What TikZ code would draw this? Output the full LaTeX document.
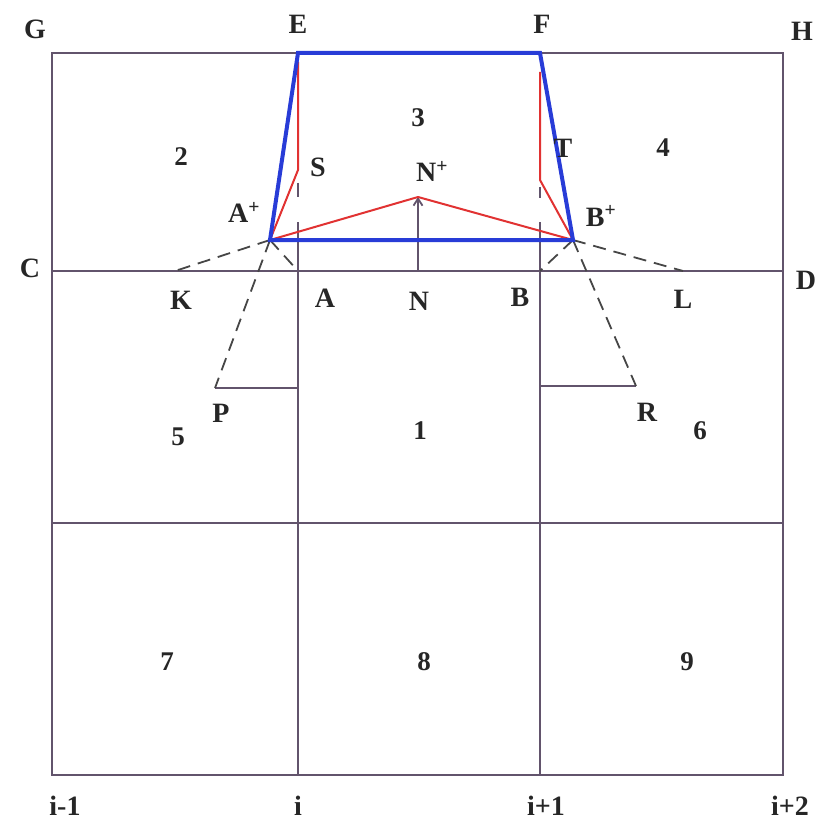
\documentclass[tikz,border=0pt]{standalone}
\usepackage{fontspec}
\setmainfont{Liberation Serif}
\usetikzlibrary{arrows.meta}
\definecolor{gridc}{RGB}{98,84,108}
\definecolor{blueline}{RGB}{40,60,215}
\definecolor{redline}{RGB}{225,50,50}
\definecolor{dashc}{RGB}{70,70,70}
\tikzset{
  gridline/.style={draw=gridc,line width=2.4pt},
  dashline/.style={draw=dashc,line width=1.8pt,dash pattern=on 13pt off 8pt},
  blueframe/.style={draw=blueline,line width=4pt,line join=miter},
  redpath/.style={draw=redline,line width=2pt,line join=round},
  lab/.style={inner sep=0pt,text=black!85,font=\fontsize{28}{31}\selectfont\bfseries},
  num/.style={inner sep=0pt,text=black!85,font=\fontsize{27}{30}\selectfont\bfseries},
}
\begin{document}
\begin{tikzpicture}[x=1pt,y=-1pt]
\useasboundingbox (0,0) rectangle (821,826);
% grid corners
\coordinate (g) at (52,53);
\coordinate (e) at (298,53);
\coordinate (f) at (540,53);
\coordinate (h) at (783,53);
\coordinate (c) at (52,271);
\coordinate (d) at (783,271);
\coordinate (ml) at (52,523);
\coordinate (mr) at (783,523);
\coordinate (bl) at (52,775);
\coordinate (bi) at (298,775);
\coordinate (bj) at (540,775);
\coordinate (br) at (783,775);
\coordinate (it) at (298,222);
\coordinate (jt) at (540,222);
\coordinate (s1) at (298,183);
\coordinate (s2) at (298,197);
\coordinate (t1) at (540,187);
\coordinate (t2) at (540,198);
% key points
\coordinate (a) at (298,271);
\coordinate (b) at (540,271);
\coordinate (n) at (418,271);
\coordinate (k) at (175,271);
\coordinate (l) at (683,271);
\coordinate (ap) at (270,240);
\coordinate (bp) at (573,240);
\coordinate (np) at (418,197);
\coordinate (s) at (298,170);
\coordinate (t) at (540,180);
\coordinate (et) at (298,62);
\coordinate (ft) at (540,72);
\coordinate (p) at (215,388);
\coordinate (pi) at (298,388);
\coordinate (r) at (636,386);
\coordinate (rj) at (540,386);

% grid
\draw[gridline] (g) -- (h) -- (br) -- (bl) -- cycle;
\draw[gridline] (c) -- (d);
\draw[gridline] (ml) -- (mr);
\draw[gridline] (bi) -- (it);
\draw[gridline] (bj) -- (jt);
\draw[gridline] (s1) -- (s2);
\draw[gridline] (t1) -- (t2);
\draw[gridline] (p) -- (pi);
\draw[gridline] (r) -- (rj);
\draw[gridline,-{Straight Barb[length=7pt,width=9pt,line width=1.8pt]}] (n) -- (np);

% dashed
\draw[dashline] (ap) -- (k);
\draw[dashline] (ap) -- (a);
\draw[dashline] (ap) -- (p);
\draw[dashline] (bp) -- (l);
\draw[dashline] (bp) -- (b);
\draw[dashline] (bp) -- (r);

% red
\draw[redpath] (et) -- (s) -- (ap);
\draw[redpath] (ap) -- (np) -- (bp);
\draw[redpath] (ft) -- (t) -- (bp);

% blue
\draw[blueframe] (e) -- (f) -- (bp) -- (ap) -- cycle;

% labels
\node[lab] (lG) at (35,29) {G};
\node[lab] (lE) at (298,24) {E};
\node[lab] (lF) at (542,24) {F};
\node[lab] (lH) at (802,31) {H};
\node[lab] (lC) at (30,268) {C};
\node[lab] (lD) at (806,280) {D};
\node[lab] (lK) at (181,300) {K};
\node[lab] (lA) at (325,298) {A};
\node[lab] (lN) at (419,301) {N};
\node[lab] (lB) at (520,297) {B};
\node[lab] (lL) at (683,299) {L};
\node[lab] (lAp) at (244,212) {A\textsuperscript{+}};
\node[lab] (lS) at (318,167) {S};
\node[lab] (lNp) at (432,171) {N\textsuperscript{+}};
\node[lab] (lBp) at (601,216) {B\textsuperscript{+}};
\node[lab] (lT) at (563,148) {T};
\node[lab] (lP) at (221,413) {P};
\node[lab] (lR) at (647,412) {R};
\node[num] (n1) at (420,431) {1};
\node[num] (n2) at (181,157) {2};
\node[num] (n3) at (418,118) {3};
\node[num] (n4) at (663,148) {4};
\node[num] (n5) at (178,437) {5};
\node[num] (n6) at (700,431) {6};
\node[num] (n7) at (167,662) {7};
\node[num] (n8) at (424,662) {8};
\node[num] (n9) at (687,662) {9};
\node[lab] (li0) at (65,806) {i-1};
\node[lab] (li1) at (298,806) {i};
\node[lab] (li2) at (546,806) {i+1};
\node[lab] (li3) at (790,806) {i+2};
\end{tikzpicture}
\end{document}
